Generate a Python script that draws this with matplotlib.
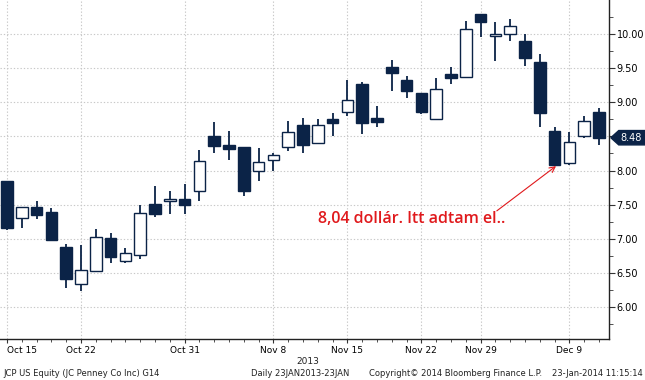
import matplotlib.pyplot as plt
import numpy as np
from matplotlib.patches import Polygon
from matplotlib.transforms import blended_transform_factory
from matplotlib.ticker import MultipleLocator, FuncFormatter

# JCP daily candles, Oct 15 - Dec 11 2013
dates = ["Oct 15", "Oct 16", "Oct 17", "Oct 18", "Oct 21", "Oct 22", "Oct 23", "Oct 24",
         "Oct 25", "Oct 28", "Oct 29", "Oct 30", "Oct 31", "Nov 1", "Nov 4", "Nov 5",
         "Nov 6", "Nov 7", "Nov 8", "Nov 11", "Nov 12", "Nov 13", "Nov 14", "Nov 15",
         "Nov 18", "Nov 19", "Nov 20", "Nov 21", "Nov 22", "Nov 25", "Nov 26", "Nov 27",
         "Nov 29", "Dec 2", "Dec 3", "Dec 4", "Dec 5", "Dec 6", "Dec 9", "Dec 10", "Dec 11"]
opens = [7.84, 7.30, 7.47, 7.40, 6.88, 6.34, 6.53, 7.02, 6.68, 6.77, 7.51, 7.55, 7.59, 7.70,
         8.50, 8.37, 8.34, 8.00, 8.16, 8.34, 8.66, 8.41, 8.76, 8.85, 9.26, 8.77, 9.51, 9.33,
         9.13, 8.76, 9.41, 9.37, 10.29, 9.97, 10.00, 9.89, 9.59, 8.58, 8.11, 8.50, 8.85]
highs = [7.85, 7.47, 7.56, 7.45, 6.92, 6.91, 7.15, 7.08, 6.87, 7.49, 7.77, 7.70, 7.81, 8.30,
         8.71, 8.58, 8.35, 8.33, 8.26, 8.73, 8.77, 8.75, 8.84, 9.32, 9.29, 8.95, 9.62, 9.39,
         9.13, 9.35, 9.52, 10.19, 10.29, 10.17, 10.21, 10.00, 9.70, 8.63, 8.56, 8.80, 8.91]
lows = [7.13, 7.16, 7.29, 6.98, 6.28, 6.23, 6.53, 6.64, 6.65, 6.70, 7.32, 7.37, 7.37, 7.56,
        8.26, 8.16, 7.62, 7.84, 7.99, 8.28, 8.26, 8.40, 8.51, 8.80, 8.54, 8.63, 9.17, 9.06,
        8.82, 8.76, 9.26, 9.36, 9.95, 9.60, 9.89, 9.53, 8.64, 8.06, 8.08, 8.48, 8.38]
closes = [7.16, 7.47, 7.35, 6.99, 6.42, 6.54, 7.03, 6.74, 6.79, 7.38, 7.37, 7.59, 7.49, 8.14,
          8.36, 8.31, 7.70, 8.12, 8.22, 8.56, 8.37, 8.66, 8.69, 9.03, 8.70, 8.71, 9.43, 9.17,
          8.86, 9.19, 9.36, 10.07, 10.18, 10.00, 10.11, 9.65, 8.84, 8.08, 8.42, 8.73, 8.48]
tick_labels = ["Oct 15", "Oct 22", "Oct 31", "Nov 8", "Nov 15", "Nov 22", "Nov 29", "Dec 9"]
last_price = 8.48
note = "8,04 dollár. Itt adtam el.."

navy = '#0b2347'
grid_c = '#c8c8c8'
red = '#e0191c'

fig = plt.figure(figsize=(6.45, 3.8), dpi=100)
ax = fig.add_axes([0, 41 / 380, 609 / 645, 339 / 380])

x = np.arange(len(dates))
o = np.array(opens)
c = np.array(closes)
up = c >= o
ax.vlines(x, lows, highs, color=navy, lw=1.3, zorder=2)
ax.bar(x, np.abs(c - o), bottom=np.minimum(o, c), width=0.78,
       color=np.where(up, 'white', navy), edgecolor=navy, lw=1.0, zorder=3)

ax.set_xlim(-0.47, 40.68)
ax.set_ylim(5.535, 10.495)

tick_pos = [dates.index(t) for t in tick_labels]
ax.set_xticks(tick_pos)
ax.set_xticklabels(tick_labels, fontsize=6.5, family='DejaVu Sans')
ax.get_xticklabels()[0].set_ha('left')
ax.set_xticks(x, minor=True)
ax.tick_params(axis='x', which='major', length=3, width=0.8, pad=2, color='#333333')
ax.tick_params(axis='x', which='minor', length=2, width=0.6, color='#333333')


def ylab(v, pos):
    # the last-price tag covers the 8.50 label
    if abs(v - 8.5) < 1e-6:
        return ''
    return f"{v:.2f}"


ax.yaxis.tick_right()
ax.yaxis.set_major_locator(MultipleLocator(0.5))
ax.yaxis.set_minor_locator(MultipleLocator(0.25))
ax.yaxis.set_major_formatter(FuncFormatter(ylab))
ax.tick_params(axis='y', which='major', length=4, width=0.8, pad=1.5, labelsize=7, color='#333333')
ax.tick_params(axis='y', which='minor', length=3, width=0.6, color='#333333')
for lab in ax.get_yticklabels():
    lab.set_family('DejaVu Sans')

ax.grid(True, which='major', color=grid_c, ls=(0, (1.2, 1.8)), lw=0.8)
ax.set_axisbelow(True)
for s in ['top', 'left']:
    ax.spines[s].set_visible(False)
ax.spines['right'].set_color('#222222')
ax.spines['bottom'].set_color('#222222')
ax.spines['right'].set_linewidth(1.0)
ax.spines['bottom'].set_linewidth(1.0)

# last price tag
tr = blended_transform_factory(ax.transAxes, ax.transData)
tag = Polygon([(1.003, last_price), (1.016, last_price + 0.105), (1.06, last_price + 0.105),
               (1.06, last_price - 0.105), (1.016, last_price - 0.105)],
              closed=True, transform=tr, clip_on=False, color=navy, zorder=5)
ax.add_patch(tag)
ax.text(1.018, last_price, f"{last_price:.2f}", transform=tr, color='white', fontsize=7,
        va='center', ha='left', family='DejaVu Sans', zorder=6, clip_on=False)

# annotation
ax.text(21.0, 7.295, note, color=red, fontsize=11.5, fontweight='semibold',
        family='Open Sans', ha='left', va='center')
ax.annotate("", xy=(37.1, 8.065), xytext=(33.1, 7.41),
            arrowprops=dict(arrowstyle='->', color=red, lw=0.8, shrinkA=0, shrinkB=0))

fig.text(308 / 645, 1 - 361 / 380, "2013", fontsize=6.5, ha='center', va='center',
         family='DejaVu Sans', color='#222222')
fig.text(3 / 645, 1 - 373 / 380, "JCP US Equity (JC Penney Co Inc) G14", fontsize=6,
         ha='left', va='center', family='DejaVu Sans', color='#222222')
fig.text(251 / 645, 1 - 373 / 380, "Daily 23JAN2013-23JAN", fontsize=6,
         ha='left', va='center', family='DejaVu Sans', color='#222222')
fig.text(369 / 645, 1 - 373 / 380, "Copyright\u00a9 2014 Bloomberg Finance L.P.", fontsize=6,
         ha='left', va='center', family='DejaVu Sans', color='#222222')
fig.text(643 / 645, 1 - 373 / 380, "23-Jan-2014 11:15:14", fontsize=6,
         ha='right', va='center', family='DejaVu Sans', color='#222222')

fig.savefig('out.png', dpi=100)
